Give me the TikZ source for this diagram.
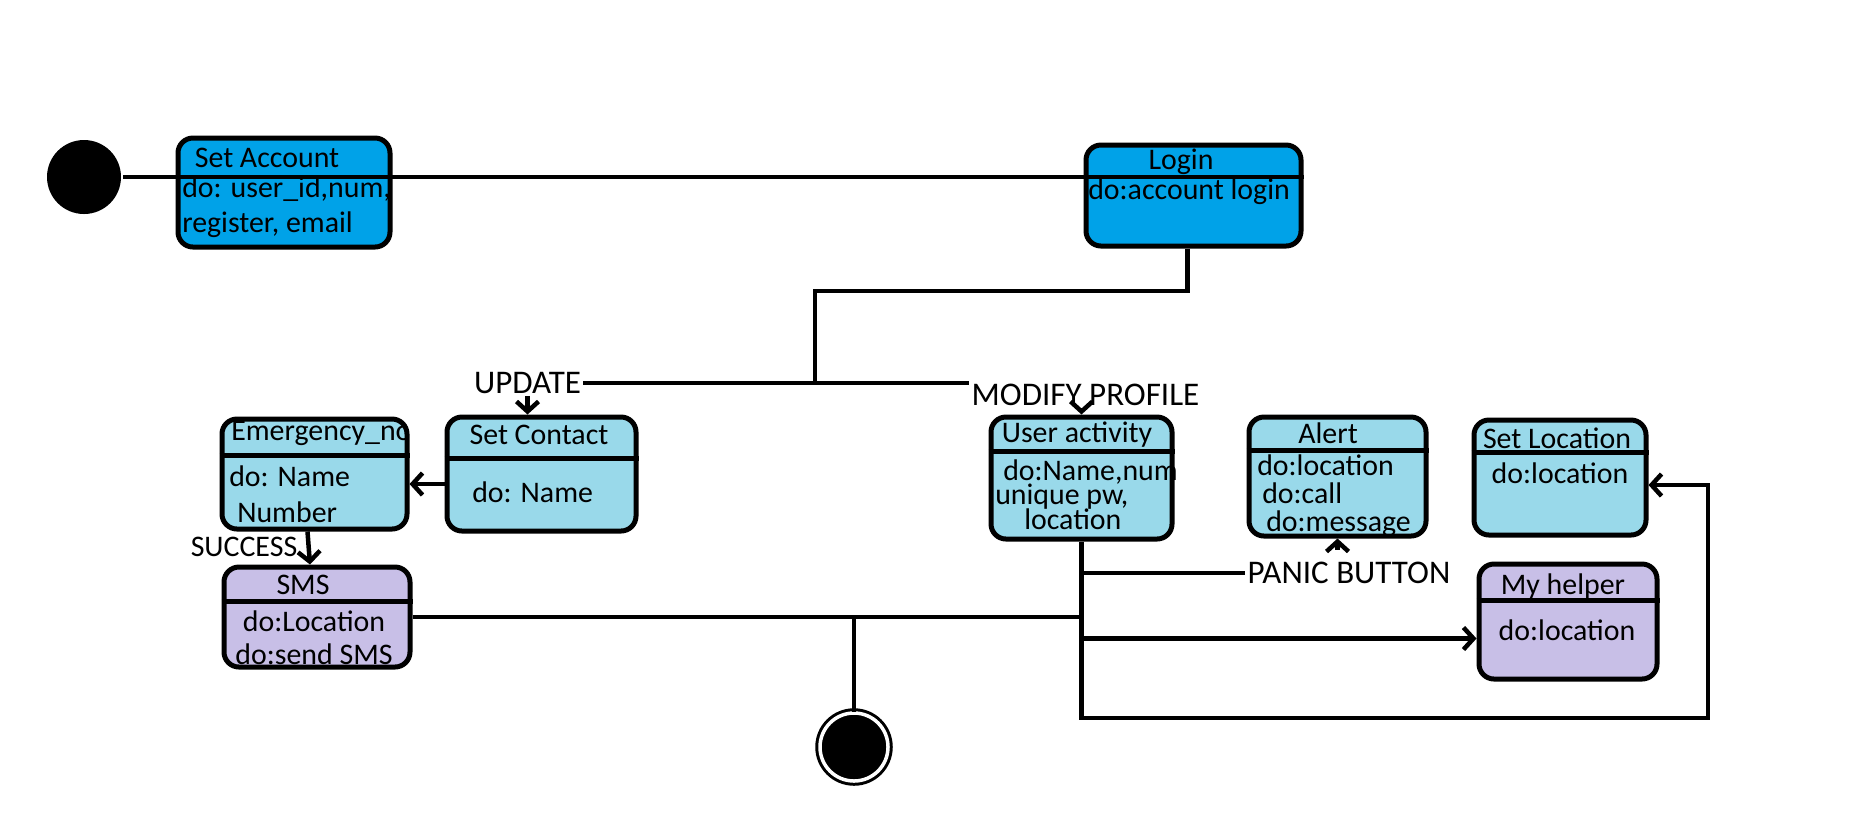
\documentclass[tikz,border=0pt]{standalone}
\usepackage{fontspec}
\setmainfont{Carlito}
\usepackage{xcolor}
\usepackage{tikz}
\usetikzlibrary{arrows.meta}

\begin{document}
\begin{tikzpicture}[node distance=2cm, line width=0.045cm, every node/.style={font=\fontsize{8.5}{10}\selectfont}]
	\definecolor{paintblue}{RGB}{0,162,232}
	\definecolor{paintcyan}{RGB}{153,217,234}
	\definecolor{paintlilac}{RGB}{200,191,231}
	\tikzstyle{startstate} = [circle, fill=black, minimum size=0.74cm, inner sep=0pt]
	\tikzstyle{endstate} = [circle, fill=black, draw=black, double=white, double distance=0.035cm, line width=0.03cm, minimum size=0.68cm, inner sep=0pt]
	\tikzstyle{statebox} = [rectangle, rounded corners=0.15cm, draw=black, line width=0.05cm, inner sep=0pt]
	\tikzstyle{titletext} = [inner sep=0pt]
	\tikzstyle{bodytext} = [inner sep=0pt, align=left, anchor=north west]
	\tikzstyle{eventtext} = [inner sep=0pt, font=\fontsize{9.4}{11}\selectfont]
	\tikzstyle{arrow} = [-{Straight Barb[length=1mm, width=2.2mm]}]

	\useasboundingbox (0,0) rectangle (18.51,-8.16);

	\node (start) [startstate] at (0.84,-1.77) {};
	\node (setacc) [statebox, fill=paintblue, minimum width=2.12cm, minimum height=1.09cm, right of=start, yshift=-0.155cm] {};
	\node (login) [statebox, fill=paintblue, minimum width=2.15cm, minimum height=1.01cm, right of=setacc, xshift=7.095cm, yshift=-0.03cm] {};
	\node (setcontact) [statebox, fill=paintcyan, minimum width=1.89cm, minimum height=1.14cm, below of=setacc, xshift=2.575cm, yshift=-0.815cm] {};
	\node (emerg) [statebox, fill=paintcyan, minimum width=1.85cm, minimum height=1.10cm, left of=setcontact, xshift=-0.27cm] {};
	\node (sms) [statebox, fill=paintlilac, minimum width=1.86cm, minimum height=1.00cm, below of=emerg, xshift=0.025cm, yshift=0.57cm] {};
	\node (useract) [statebox, fill=paintcyan, minimum width=1.81cm, minimum height=1.22cm, below of=login, xshift=-1.12cm, yshift=-0.825cm] {};
	\node (alert) [statebox, fill=paintcyan, minimum width=1.77cm, minimum height=1.19cm, right of=useract, xshift=0.56cm, yshift=0.015cm] {};
	\node (setloc) [statebox, fill=paintcyan, minimum width=1.72cm, minimum height=1.15cm, right of=alert, xshift=0.225cm, yshift=-0.01cm] {};
	\node (helper) [statebox, fill=paintlilac, minimum width=1.78cm, minimum height=1.15cm, below of=setloc, xshift=0.08cm, yshift=0.56cm] {};
	\node (end) [endstate, below of=useract, xshift=-2.275cm, yshift=-0.69cm] {};

	% compartment lines
	\draw ([yshift=-0.39cm]emerg.north west) -- ([yshift=-0.39cm]emerg.north east);
	\draw ([yshift=-0.44cm]setcontact.north west) -- ([yshift=-0.44cm]setcontact.north east);
	\draw ([yshift=-0.37cm]sms.north west) -- ([yshift=-0.37cm]sms.north east);
	\draw ([yshift=-0.37cm]useract.north west) -- ([yshift=-0.37cm]useract.north east);
	\draw ([yshift=-0.36cm]alert.north west) -- ([yshift=-0.36cm]alert.north east);
	\draw ([yshift=-0.35cm]setloc.north west) -- ([yshift=-0.35cm]setloc.north east);
	\draw ([yshift=-0.39cm]helper.north west) -- ([yshift=-0.39cm]helper.north east);

	\node (setaccT) [titletext] at (2.67,-1.58) {Set Account};
	\node (setaccB) [bodytext] at (1.80,-1.74) {do: user\_id,num,\\register, email};
	\node (loginT) [titletext] at (11.81,-1.62) {Login};
	\node (loginB) [bodytext] at (10.86,-1.76) {do:account login};
	\begin{scope}
		\clip (emerg.north west) rectangle ([xshift=-0.05cm]emerg.south east);
		\node (emergT) [titletext, anchor=west] at (2.29,-4.33) {Emergency\_no};
	\end{scope}
	\node (emergB) [bodytext] at (2.27,-4.63) {do: Name\\[0.5pt]\hspace*{0.08cm}Number};
	\node (contactT) [titletext] at (5.39,-4.35) {Set Contact};
	\node (contactB) [bodytext] at (4.70,-4.79) {do: Name};
	\node (smsT) [titletext] at (3.03,-5.85) {SMS};
	\node (smsB) [bodytext, align=center, anchor=north] at (3.14,-6.08) {do:Location\\[-0.6pt]do:send SMS};
	\node (useractT) [titletext] at (10.77,-4.35) {User activity};
	\node (useractB) [bodytext] at (9.93,-4.57) {\hspace*{0.08cm}do:Name,num\\[-3pt]unique pw,\\[-3pt]\hspace*{0.29cm}location};
	\node (alertT) [titletext] at (13.28,-4.33) {Alert};
	\node (alertB) [bodytext] at (12.55,-4.52) {do:location\\[-2pt]\hspace*{0.05cm}do:call\\[-2pt]\hspace*{0.09cm}do:message};
	\node (setlocT) [titletext] at (15.57,-4.38) {Set Location};
	\node (setlocB) [titletext] at (15.60,-4.73) {do:location};
	\node (helperT) [titletext] at (15.63,-5.87) {My helper};
	\node (helperB) [titletext] at (15.67,-6.30) {do:location};

	\node (update) [eventtext] at (5.275,-3.83) {UPDATE};
	\node (modify) [eventtext] at (10.855,-3.95) {MODIFY PROFILE};
	\node (success) [eventtext, font=\fontsize{8.5}{10}\selectfont] at (2.44,-5.47) {SUCCESS};
	\node (panic) [eventtext] at (13.49,-5.73) {PANIC BUTTON};

	\coordinate (split) at (8.15,-2.91);
	\coordinate (fork) at (8.15,-3.83);
	\coordinate (loop) at (17.08,-7.18);
	\coordinate (merge) at (end.north |- sms.east);
	\coordinate (hin) at ([yshift=-0.17cm]helper.west);
	\coordinate (panictop) at ([yshift=0.1cm]panic.north);
	\coordinate (loginfoot) at ([xshift=-0.06cm]login.south);

	\draw (start) -- (login.east |- start);
	\draw (loginfoot) |- (split) -- (fork);
	\draw (fork) -- (update.east);
	\draw (fork) -- (fork -| modify.west);
	\draw [arrow] (update.south) -- (update.south |- setcontact.north);
	\draw [arrow] (modify.south -| useract.north) -- (useract.north);
	\draw [arrow] ([yshift=-0.1cm]setcontact.west) -- ([yshift=-0.1cm]emerg.east);
	\draw [arrow] ([xshift=-0.07cm]emerg.south) -- ([xshift=-0.07cm]sms.north);
	\draw (sms.east) -- (merge) -- (end.north);
	\draw (merge) -- (merge -| useract.south);
	\draw [arrow] (useract.south) |- (loop) |- ([yshift=-0.075cm]setloc.east);
	\draw (useract.south |- panic.west) -- (panic.west);
	\draw [arrow] (panictop -| alert.south) -- (alert.south);
	\draw [arrow] (useract.south |- hin) -- (hin);
\end{tikzpicture}
\end{document}
